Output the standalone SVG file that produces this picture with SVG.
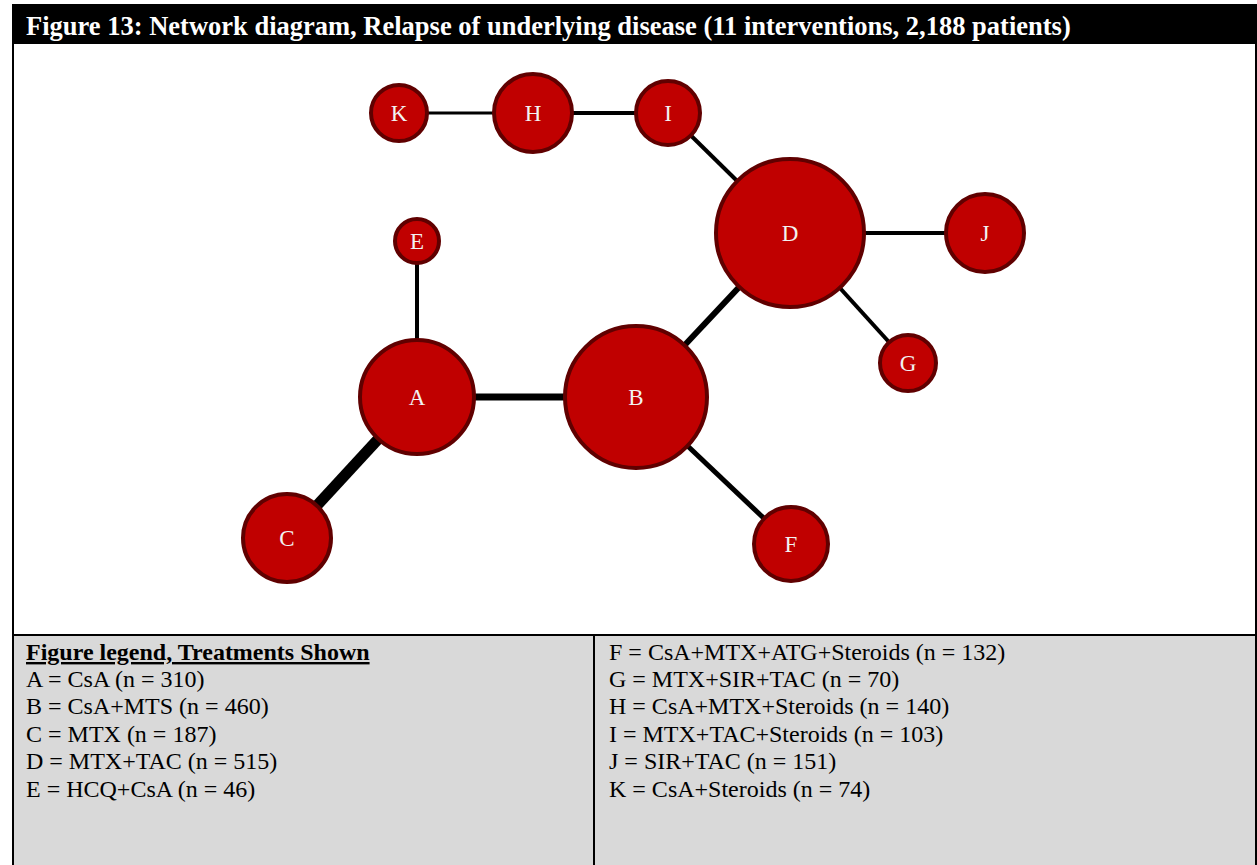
<svg xmlns="http://www.w3.org/2000/svg" width="1257" height="865" viewBox="0 0 1257 865">
<style>
.node circle{fill:#C00000;stroke:#600000;stroke-width:4}
.node text{fill:#F2F2F2;font-family:"Liberation Serif",serif;font-size:23px;text-anchor:middle;dominant-baseline:central}
.edges line{stroke:#000}
.leg{font-family:"Liberation Serif",serif;font-size:24px;fill:#000}
</style>
<rect x="0" y="0" width="1257" height="865" fill="#fff"/>
<rect x="12" y="635" width="1245" height="230" fill="#D9D9D9"/>
<rect x="12" y="4" width="1245" height="40" fill="#000"/>
<text x="26" y="35" font-family="Liberation Serif,serif" font-weight="bold" font-size="26.5" fill="#fff">Figure 13: Network diagram, Relapse of underlying disease (11 interventions, 2,188 patients)</text>
<g stroke="#000" stroke-width="2">
<line x1="13" y1="44" x2="13" y2="865"/>
<line x1="1256" y1="44" x2="1256" y2="865"/>
<line x1="12" y1="635" x2="1257" y2="635"/>
<line x1="594" y1="635" x2="594" y2="865"/>
</g>
<g class="edges">
<line x1="399" y1="113" x2="533" y2="113" stroke-width="3"/>
<line x1="533" y1="113" x2="668" y2="113" stroke-width="4"/>
<line x1="668" y1="113" x2="790" y2="233" stroke-width="4"/>
<line x1="790" y1="233" x2="985" y2="233" stroke-width="4"/>
<line x1="790" y1="233" x2="908" y2="363" stroke-width="4"/>
<line x1="790" y1="233" x2="636" y2="397" stroke-width="6"/>
<line x1="417" y1="241" x2="417" y2="397" stroke-width="4"/>
<line x1="417" y1="397" x2="636" y2="397" stroke-width="7"/>
<line x1="417" y1="397" x2="287" y2="538" stroke-width="11"/>
<line x1="636" y1="397" x2="791" y2="544" stroke-width="5"/>
</g>
<g id="node-K" class="node"><circle cx="399" cy="113" r="28"/><text x="399" y="113">K</text></g>
<g id="node-H" class="node"><circle cx="533" cy="113" r="39"/><text x="533" y="113">H</text></g>
<g id="node-I" class="node"><circle cx="668" cy="113" r="32"/><text x="668" y="113">I</text></g>
<g id="node-D" class="node"><circle cx="790" cy="233" r="74"/><text x="790" y="233">D</text></g>
<g id="node-J" class="node"><circle cx="985" cy="233" r="39"/><text x="985" y="233">J</text></g>
<g id="node-E" class="node"><circle cx="417" cy="241" r="22"/><text x="417" y="241">E</text></g>
<g id="node-G" class="node"><circle cx="908" cy="363" r="28"/><text x="908" y="363">G</text></g>
<g id="node-A" class="node"><circle cx="417" cy="397" r="57"/><text x="417" y="397">A</text></g>
<g id="node-B" class="node"><circle cx="636" cy="397" r="71"/><text x="636" y="397">B</text></g>
<g id="node-C" class="node"><circle cx="287" cy="538" r="44"/><text x="287" y="538">C</text></g>
<g id="node-F" class="node"><circle cx="791" cy="544" r="37"/><text x="791" y="544">F</text></g>
<g class="leg">
<text x="26" y="660" font-weight="bold" text-decoration="underline">Figure legend, Treatments Shown</text>
<text x="26" y="687">A = CsA (n = 310)</text>
<text x="26" y="714">B = CsA+MTS (n = 460)</text>
<text x="26" y="742">C = MTX (n = 187)</text>
<text x="26" y="769">D = MTX+TAC (n = 515)</text>
<text x="26" y="797">E = HCQ+CsA (n = 46)</text>
<text x="609" y="660">F = CsA+MTX+ATG+Steroids (n = 132)</text>
<text x="609" y="687">G = MTX+SIR+TAC (n = 70)</text>
<text x="609" y="714">H = CsA+MTX+Steroids (n = 140)</text>
<text x="609" y="742">I = MTX+TAC+Steroids (n = 103)</text>
<text x="609" y="769">J = SIR+TAC (n = 151)</text>
<text x="609" y="797">K = CsA+Steroids (n = 74)</text>
</g>
</svg>
